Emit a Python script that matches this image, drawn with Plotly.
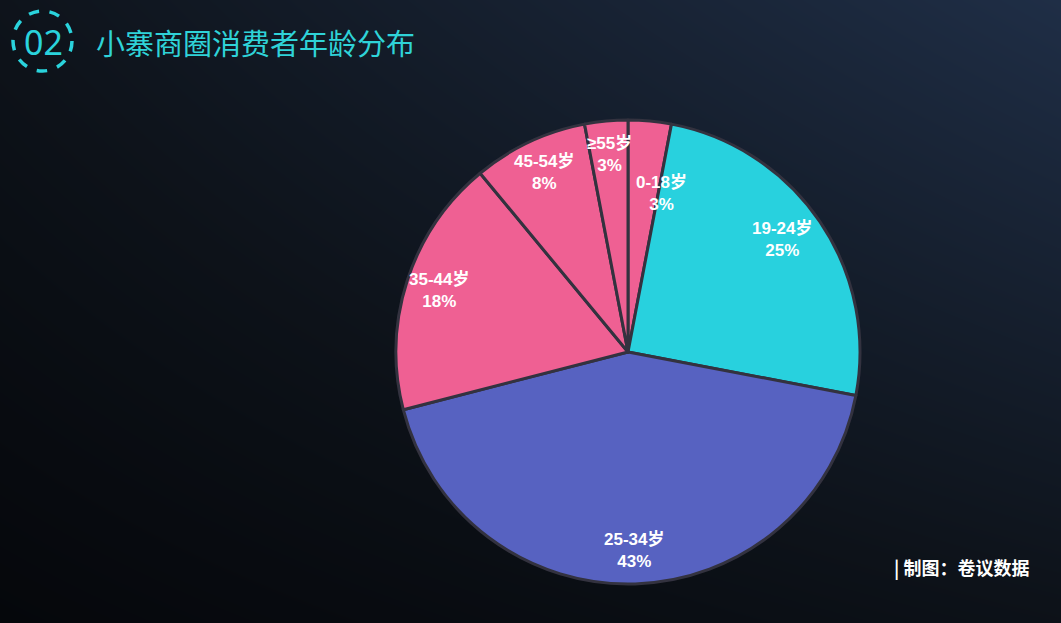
import math
import plotly.graph_objects as go

# ---- data ----
age_groups = ["0-18岁", "19-24岁", "25-34岁", "35-44岁", "45-54岁", "≥55岁"]
shares = [3, 25, 43, 18, 8, 3]
slice_colors = ["#EF6093", "#28D1DE", "#5762C1", "#EF6093", "#EF6093", "#EF6093"]
title_text = "小寨商圈消费者年龄分布"
badge_text = "02"
credit_text = "| 制图：卷议数据"

# ---- styling / layout (not data) ----
W, H = 1061, 623
cx, cy, r = 628, 352, 232          # pie centre & radius in pixels
label_radius = 0.855                # fraction of radius for label centres
# small per-label nudges (degrees, radius fraction) to avoid crowding
label_nudge = {0: (6.5, 0.70), 1: (-2.0, 0.82)}

def px_x(v):
    return v / W

def px_y(v):
    return 1 - v / H

fig = go.Figure()

# background gradient via smooth heatmap on hidden axes
fig.add_trace(go.Heatmap(
    z=[[0.0, 0.28], [0.33, 1.0]],
    x=[0, 1], y=[0, 1],
    zsmooth="best",
    colorscale=[[0, "#05070B"], [0.3, "#0D1219"], [1, "#1F2E46"]],
    showscale=False, hoverinfo="skip",
    xaxis="x", yaxis="y",
))

fig.add_trace(go.Pie(
    labels=age_groups,
    values=shares,
    sort=False,
    direction="clockwise",
    rotation=0,
    marker=dict(colors=slice_colors, line=dict(color="#33323F", width=3)),
    textinfo="none",
    domain=dict(x=[px_x(cx - r), px_x(cx + r)], y=[px_y(cy + r), px_y(cy - r)]),
    showlegend=False,
    hoverinfo="label+percent",
))

# slice labels placed along each slice's mid-angle (derived from the data)
annotations = []
total = sum(shares)
cum = 0
for i, (lab, v) in enumerate(zip(age_groups, shares)):
    mid = (cum + v / 2) / total * 360.0
    cum += v
    dang, rf = label_nudge.get(i, (0.0, label_radius))
    a = math.radians(mid + dang)
    lx = cx + rf * r * math.sin(a)
    ly = cy - rf * r * math.cos(a)
    annotations.append(dict(
        text=f"<b>{lab}<br>{v}%</b>", x=px_x(lx), y=px_y(ly),
        xref="paper", yref="paper", showarrow=False,
        xanchor="center", yanchor="middle", align="center",
        font=dict(family="Arial, Liberation Sans, Noto Sans CJK SC", size=17, color="#FFFFFF"),
    ))

annotations += [
    dict(text=badge_text, x=px_x(43), y=px_y(42), xref="paper", yref="paper",
         showarrow=False, xanchor="center", yanchor="middle",
         font=dict(family="Noto Sans, Noto Sans CJK SC", size=34, color="#2AD3DC")),
    dict(text=title_text, x=px_x(94), y=px_y(42), xref="paper", yref="paper",
         showarrow=False, xanchor="left", yanchor="middle",
         font=dict(family="Noto Sans CJK SC", size=29, color="#2FD3D8")),
    dict(text="<b>" + credit_text + "</b>", x=px_x(1031), y=px_y(567), xref="paper", yref="paper",
         showarrow=False, xanchor="right", yanchor="middle",
         font=dict(family="Noto Sans CJK SC", size=18, color="#FFFFFF")),
]

fig.update_layout(
    width=W, height=H,
    margin=dict(l=0, r=0, t=0, b=0),
    paper_bgcolor="#0D1219",
    plot_bgcolor="rgba(0,0,0,0)",
    xaxis=dict(range=[0, 1], visible=False, domain=[0, 1], fixedrange=True),
    yaxis=dict(range=[0, 1], visible=False, domain=[0, 1], fixedrange=True),
    font=dict(family="Arial, Liberation Sans, Noto Sans CJK SC"),
    shapes=[
        dict(type="circle", xref="paper", yref="paper",
             x0=px_x(13), x1=px_x(72), y0=px_y(71), y1=px_y(11),
             line=dict(color="#2AD3DC", width=3.5, dash="dash")),
    ],
    annotations=annotations,
)

fig.write_html(
    "out.html",
    config={"displayModeBar": False},
    post_script="document.body.style.margin='0';document.body.style.overflow='hidden';",
)
